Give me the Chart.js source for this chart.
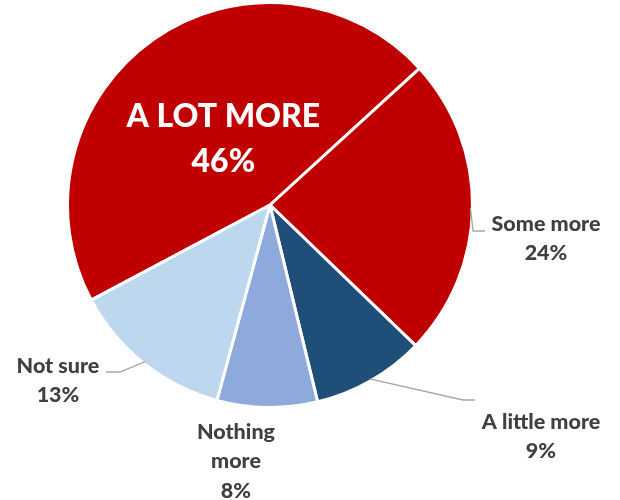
<!DOCTYPE html>
<html lang="en">
<head>
  <meta charset="UTF-8">
  <title>A lot more</title>
  <script src="https://cdn.jsdelivr.net/npm/chart.js"></script>
  <style>
    body {
      margin: 0;
      background-color: white;
    }
  </style>
</head>
<body>
  <canvas id="pieChart" width="620" height="500"></canvas>

  <script>
    // Chart data
    const categories = ["A LOT MORE", "Some more", "A little more", "Nothing more", "Not sure"];
    const percents = [46, 24, 9, 8, 13];
    const sliceColors = ["#C00000", "#C00000", "#1F4E79", "#8EA9DB", "#BDD7EE"];

    // label lines (text) for each slice
    const labelLines = [
      ["A LOT MORE", "46%"],
      ["Some more", "24%"],
      ["A little more", "9%"],
      ["Nothing", "more", "8%"],
      ["Not sure", "13%"]
    ];

    // Draws the slice labels and leader lines, positioned relative to the pie centre
    const sliceLabels = {
      id: "sliceLabels",
      afterDatasetsDraw(chart, args, opts) {
        const ctx = chart.ctx;
        const arcs = chart.getDatasetMeta(0).data;
        arcs.forEach((arc, i) => {
          const cx = arc.x, cy = arc.y, r = arc.outerRadius;
          const mid = (arc.startAngle + arc.endAngle) / 2;
          const place = opts.places[i];
          ctx.save();
          ctx.textAlign = "center";
          ctx.textBaseline = "middle";
          if (place.inside) {
            ctx.fillStyle = "white";
            ctx.font = "900 32px Lato";
            const tx = cx + Math.cos(mid) * r * place.inside;
            const ty = cy + Math.sin(mid) * r * place.inside;
            ctx.fillText(labelLines[i][0], tx, ty - 22);
            ctx.fillText(labelLines[i][1], tx, ty + 23);
            ctx.restore();
            return;
          }
          if (place.elbow) {
            ctx.strokeStyle = "#A6A6A6";
            ctx.lineWidth = 1.3;
            ctx.beginPath();
            ctx.moveTo(cx + Math.cos(mid) * (r - 2), cy + Math.sin(mid) * (r - 2));
            ctx.lineTo(cx + place.elbow[0], cy + place.elbow[1]);
            ctx.lineTo(cx + place.end[0], cy + place.end[1]);
            ctx.stroke();
          }
          ctx.fillStyle = "#404040";
          ctx.font = "900 21.5px Lato";
          labelLines[i].forEach((t, k) => {
            ctx.fillText(t, cx + place.text[0], cy + place.text[1] + k * 29.5);
          });
          ctx.restore();
        });
      }
    };

    new Chart(document.getElementById("pieChart"), {
      type: "pie",
      data: {
        labels: categories,
        datasets: [{
          data: percents,
          backgroundColor: sliceColors,
          borderColor: "white",
          borderWidth: 3
        }]
      },
      options: {
        responsive: false,
        animation: false,
        rotation: -118,
        layout: {
          padding: { left: 66, right: 146, top: 1, bottom: 91 }
        },
        plugins: {
          legend: { display: false },
          tooltip: { enabled: false },
          sliceLabels: {
            places: [
              { inside: 0.4 },
              { elbow: [203, 26], end: [215, 26], text: [276, 19] },
              { elbow: [193, 195], end: [205, 195], text: [271, 217] },
              { text: [-34, 227] },
              { elbow: [-150, 167], end: [-164, 167], text: [-212, 161] }
            ]
          }
        }
      },
      plugins: [sliceLabels]
    });
  </script>
</body>
</html>
